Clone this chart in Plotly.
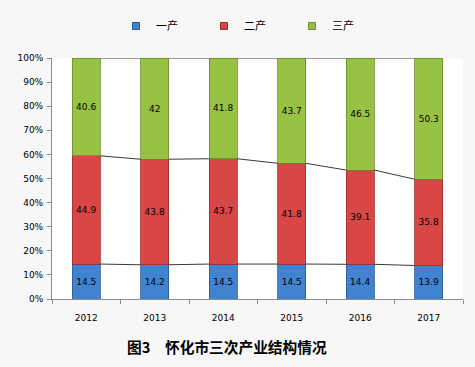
import plotly.graph_objects as go

years = ["2012", "2013", "2014", "2015", "2016", "2017"]
primary = [14.5, 14.2, 14.5, 14.5, 14.4, 13.9]
secondary = [44.9, 43.8, 43.7, 41.8, 39.1, 35.8]
tertiary = [40.6, 42, 41.8, 43.7, 46.5, 50.3]
series_names = ["一产", "二产", "三产"]
y_ticks = [0, 10, 20, 30, 40, 50, 60, 70, 80, 90, 100]
title_text = "图3　怀化市三次产业结构情况"

colors = ["#4283d0", "#d94646", "#98c244"]
edges = ["#2c5a94", "#9e2e2e", "#6a8a2a"]
bar_w = 0.41
xs = list(range(len(years)))

fig = go.Figure()

# series lines (Excel-style) connecting cumulative tops between bars
cum1 = primary
cum2 = [a + b for a, b in zip(primary, secondary)]
cum3 = [a + b + c for a, b, c in zip(primary, secondary, tertiary)]
for cum in (cum1, cum2, cum3):
    lx, ly = [], []
    for i in range(len(years) - 1):
        lx += [i + bar_w / 2, i + 1 - bar_w / 2, None]
        ly += [cum[i], cum[i + 1], None]
    fig.add_trace(go.Scatter(x=lx, y=ly, mode="lines", line=dict(color="#222222", width=0.9),
                             showlegend=False, hoverinfo="skip"))

for name, vals, c, e in zip(series_names, [primary, secondary, tertiary], colors, edges):
    fig.add_trace(go.Bar(
        x=xs, y=vals, name=name, width=bar_w, showlegend=False,
        marker=dict(color=c, line=dict(color=e, width=0.8)),
        text=[f"{v:g}" for v in vals], textposition="inside", insidetextanchor="middle",
        textfont=dict(family="DejaVu Sans", size=9, color="#000000"),
        textangle=0,
    ))

# legend entries with small square markers
for name, c, e in zip(series_names, colors, edges):
    fig.add_trace(go.Scatter(
        x=[None], y=[None], mode="markers", name=name,
        marker=dict(symbol="square", size=7, color=c, line=dict(color=e, width=1)),
    ))

fig.update_layout(
    barmode="stack",
    width=475, height=367,
    margin=dict(l=52, r=12, t=58, b=68),
    paper_bgcolor="#f7f7f7",
    plot_bgcolor="#ffffff",
    font=dict(family="DejaVu Sans", size=9, color="#000000"),
    legend=dict(orientation="h", x=116 / 475, xref="container", xanchor="left",
                y=1 - 26 / 367, yref="container", yanchor="middle",
                font=dict(family="Noto Sans CJK SC", size=11, color="#000000"),
                traceorder="normal", entrywidth=43, entrywidthmode="pixels",
                itemwidth=30, bgcolor="rgba(0,0,0,0)"),
    annotations=[dict(text=f"<b>{title_text}</b>", x=0.427, xref="paper",
                      y=-0.199, yref="paper",
                      xanchor="center", yanchor="middle", showarrow=False,
                      font=dict(family="Noto Sans CJK SC", size=14.7, color="#000000"))],
    showlegend=True,
)

fig.update_xaxes(
    range=[-0.5, len(years) - 0.5], tickvals=xs, ticktext=years,
    showline=True, linecolor="#8c8c8c", linewidth=1, showgrid=False, zeroline=False,
    ticks="", ticklabelstandoff=10, tickfont=dict(family="DejaVu Sans", size=9),
)
fig.update_xaxes(minor=dict(tickvals=[i - 0.5 for i in range(len(years) + 1)], ticks="outside",
                            ticklen=4, tickcolor="#8c8c8c", showgrid=False))
fig.update_yaxes(
    range=[0, 100], tickvals=y_ticks, ticktext=[f"{v}%" for v in y_ticks],
    showline=True, linecolor="#8c8c8c", linewidth=1, showgrid=False, zeroline=False,
    ticks="outside", ticklen=4, tickcolor="#8c8c8c", ticklabelstandoff=2,
    tickfont=dict(family="DejaVu Sans", size=9),
)

fig.write_html("out.html", config={"displayModeBar": False},
               post_script="document.body.style.margin='0';")
